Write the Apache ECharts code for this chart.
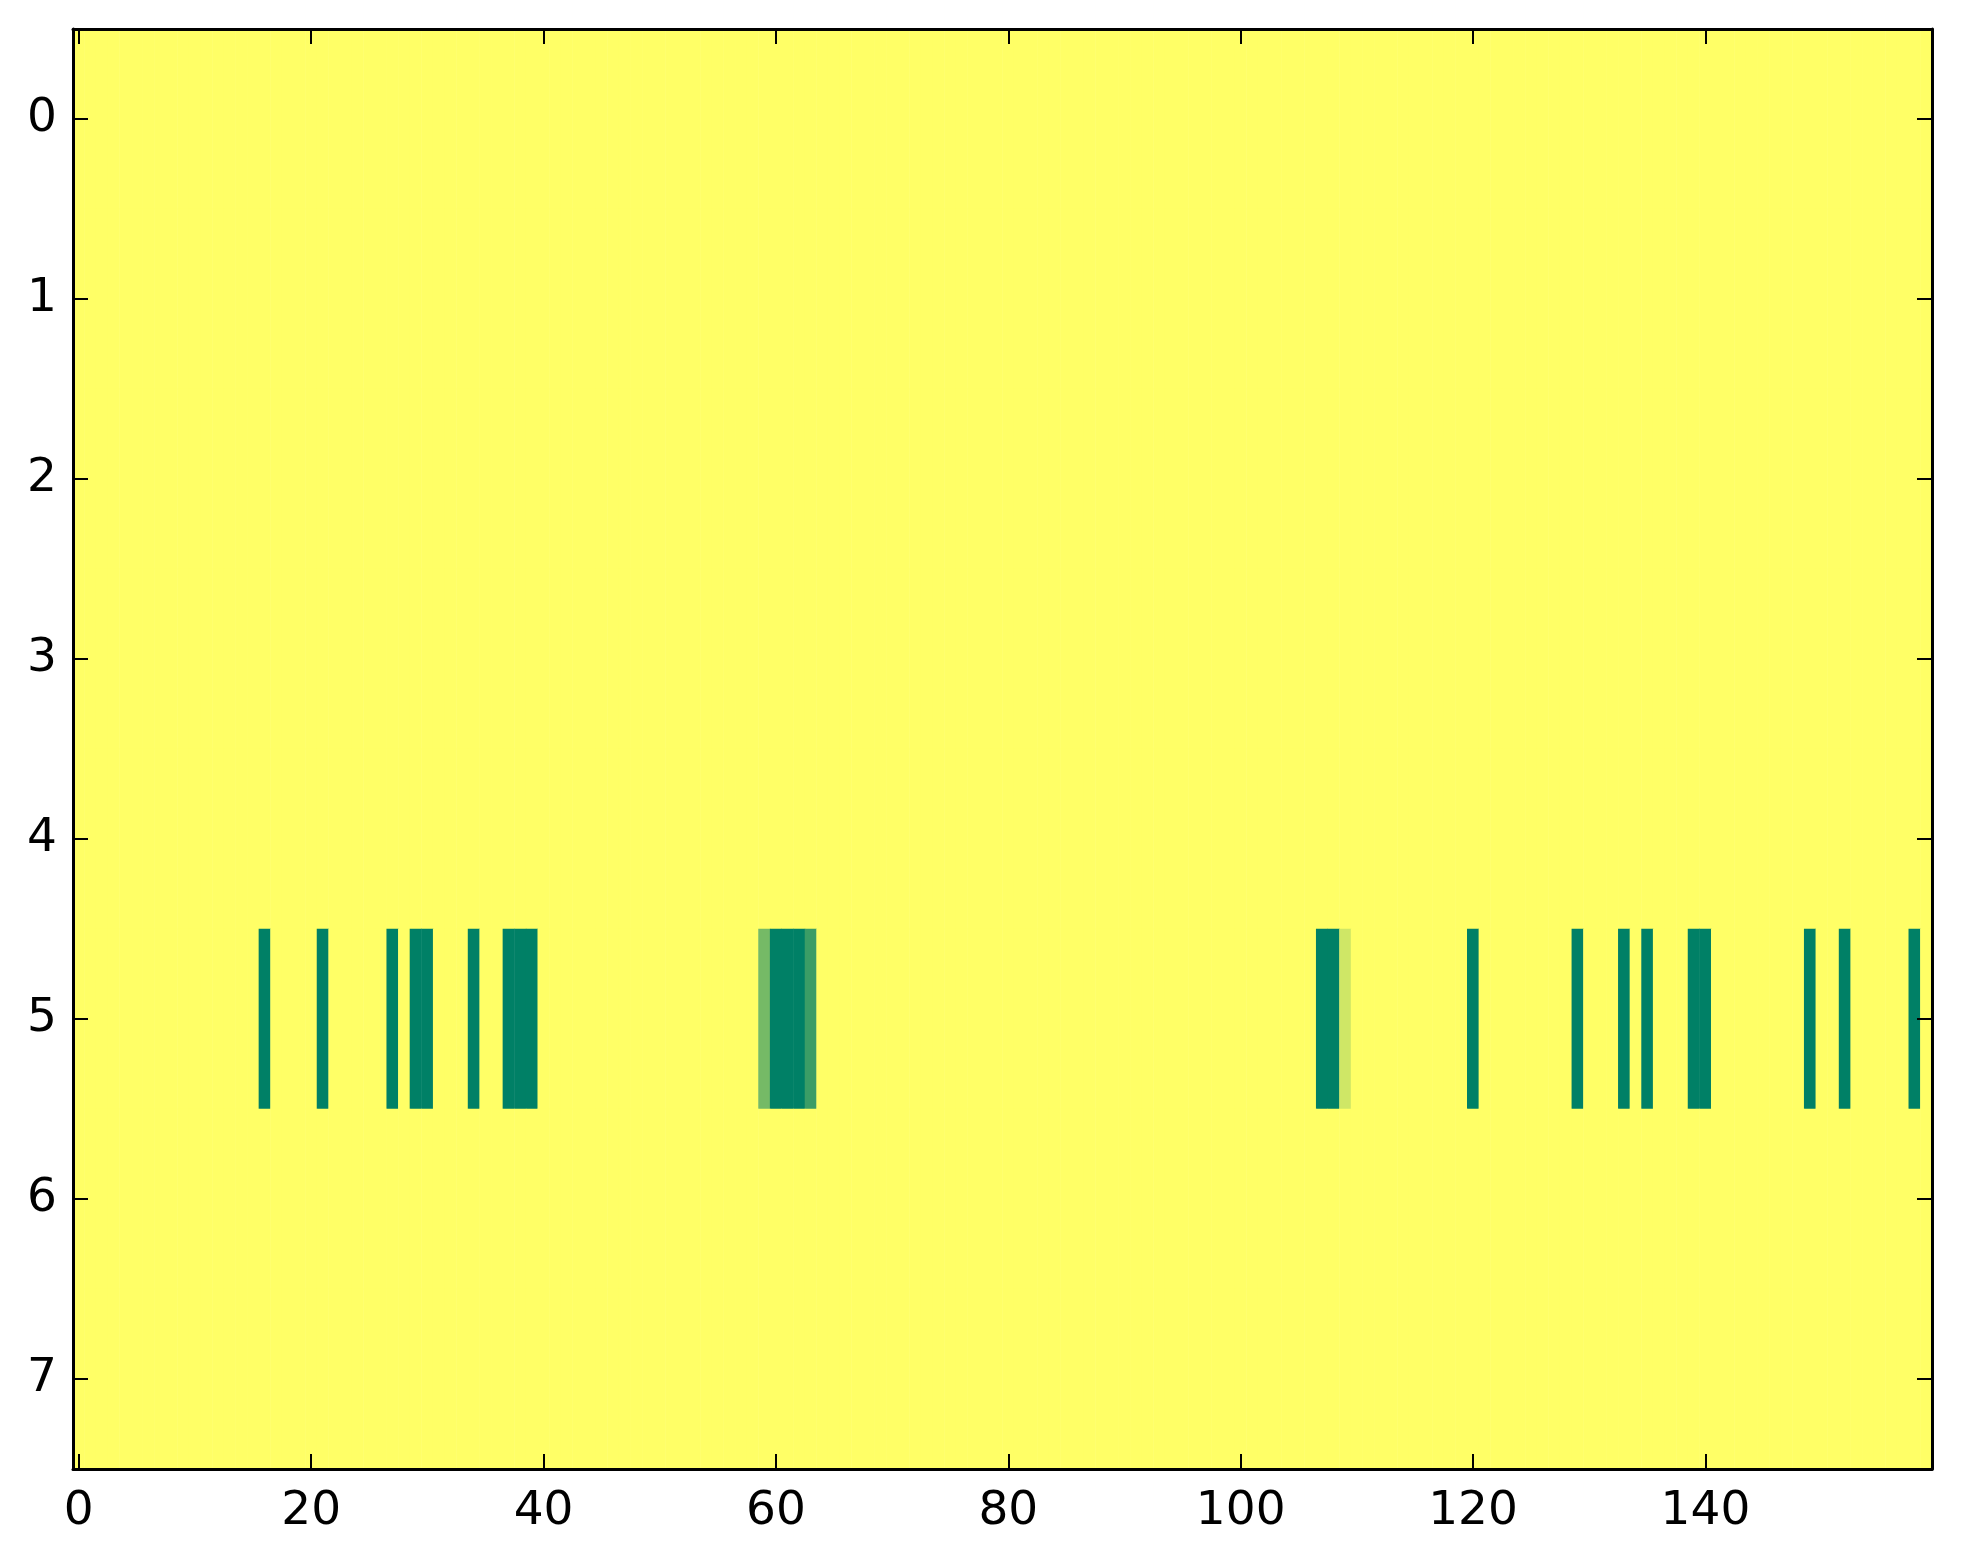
<!DOCTYPE html>
<html>
<head>
<meta charset="utf-8">
<script src="https://cdn.jsdelivr.net/npm/echarts@6/dist/echarts.min.js"></script>
<style>
html,body{margin:0;padding:0;background:#fff;}
#chart{width:1963px;height:1564px;}
</style>
</head>
<body>
<div id="chart"></div>
<script>
// Column categories (0..159) and row categories (0..7)
const xCategories = Array.from({length: 160}, (_, i) => String(i));
const yCategories = ['0', '1', '2', '3', '4', '5', '6', '7'];
const xTickLabels = ['0', '20', '40', '60', '80', '100', '120', '140'];

// Cell values per row (0 = dark green, 1 = yellow)
const row0 = [1,1,1,1,1,1,1,1,1,1,1,1,1,1,1,1,1,1,1,1,1,1,1,1,1,1,1,1,1,1,1,1,1,1,1,1,1,1,1,1,1,1,1,1,1,1,1,1,1,1,1,1,1,1,1,1,1,1,1,1,1,1,1,1,1,1,1,1,1,1,1,1,1,1,1,1,1,1,1,1,1,1,1,1,1,1,1,1,1,1,1,1,1,1,1,1,1,1,1,1,1,1,1,1,1,1,1,1,1,1,1,1,1,1,1,1,1,1,1,1,1,1,1,1,1,1,1,1,1,1,1,1,1,1,1,1,1,1,1,1,1,1,1,1,1,1,1,1,1,1,1,1,1,1,1,1,1,1,1,1];
const row1 = [1,1,1,1,1,1,1,1,1,1,1,1,1,1,1,1,1,1,1,1,1,1,1,1,1,1,1,1,1,1,1,1,1,1,1,1,1,1,1,1,1,1,1,1,1,1,1,1,1,1,1,1,1,1,1,1,1,1,1,1,1,1,1,1,1,1,1,1,1,1,1,1,1,1,1,1,1,1,1,1,1,1,1,1,1,1,1,1,1,1,1,1,1,1,1,1,1,1,1,1,1,1,1,1,1,1,1,1,1,1,1,1,1,1,1,1,1,1,1,1,1,1,1,1,1,1,1,1,1,1,1,1,1,1,1,1,1,1,1,1,1,1,1,1,1,1,1,1,1,1,1,1,1,1,1,1,1,1,1,1];
const row2 = [1,1,1,1,1,1,1,1,1,1,1,1,1,1,1,1,1,1,1,1,1,1,1,1,1,1,1,1,1,1,1,1,1,1,1,1,1,1,1,1,1,1,1,1,1,1,1,1,1,1,1,1,1,1,1,1,1,1,1,1,1,1,1,1,1,1,1,1,1,1,1,1,1,1,1,1,1,1,1,1,1,1,1,1,1,1,1,1,1,1,1,1,1,1,1,1,1,1,1,1,1,1,1,1,1,1,1,1,1,1,1,1,1,1,1,1,1,1,1,1,1,1,1,1,1,1,1,1,1,1,1,1,1,1,1,1,1,1,1,1,1,1,1,1,1,1,1,1,1,1,1,1,1,1,1,1,1,1,1,1];
const row3 = [1,1,1,1,1,1,1,1,1,1,1,1,1,1,1,1,1,1,1,1,1,1,1,1,1,1,1,1,1,1,1,1,1,1,1,1,1,1,1,1,1,1,1,1,1,1,1,1,1,1,1,1,1,1,1,1,1,1,1,1,1,1,1,1,1,1,1,1,1,1,1,1,1,1,1,1,1,1,1,1,1,1,1,1,1,1,1,1,1,1,1,1,1,1,1,1,1,1,1,1,1,1,1,1,1,1,1,1,1,1,1,1,1,1,1,1,1,1,1,1,1,1,1,1,1,1,1,1,1,1,1,1,1,1,1,1,1,1,1,1,1,1,1,1,1,1,1,1,1,1,1,1,1,1,1,1,1,1,1,1];
const row4 = [1,1,1,1,1,1,1,1,1,1,1,1,1,1,1,1,1,1,1,1,1,1,1,1,1,1,1,1,1,1,1,1,1,1,1,1,1,1,1,1,1,1,1,1,1,1,1,1,1,1,1,1,1,1,1,1,1,1,1,1,1,1,1,1,1,1,1,1,1,1,1,1,1,1,1,1,1,1,1,1,1,1,1,1,1,1,1,1,1,1,1,1,1,1,1,1,1,1,1,1,1,1,1,1,1,1,1,1,1,1,1,1,1,1,1,1,1,1,1,1,1,1,1,1,1,1,1,1,1,1,1,1,1,1,1,1,1,1,1,1,1,1,1,1,1,1,1,1,1,1,1,1,1,1,1,1,1,1,1,1];
const row5 = [
  1,1,1,1,1,1,1,1,1,1,1,1,1,1,1,1,   // 0-15
  0,1,1,1,1,0,1,1,1,1,1,0,1,0,0,1,   // 16-31
  1,1,0,1,1,0,0,0,1,1,1,1,1,1,1,1,   // 32-47
  1,1,1,1,1,1,1,1,1,1,1,0.46,0,0,0,0.23, // 48-63
  1,1,1,1,1,1,1,1,1,1,1,1,1,1,1,1,   // 64-79
  1,1,1,1,1,1,1,1,1,1,1,1,1,1,1,1,   // 80-95
  1,1,1,1,1,1,1,1,1,1,1,0,0,0.81,1,1, // 96-111
  1,1,1,1,1,1,1,1,0,1,1,1,1,1,1,1,   // 112-127
  1,0,1,1,1,0,1,0,1,1,1,0,0,1,1,1,   // 128-143
  1,1,1,1,1,0,1,1,0,1,1,1,1,1,0,1    // 144-159
];
const row6 = [1,1,1,1,1,1,1,1,1,1,1,1,1,1,1,1,1,1,1,1,1,1,1,1,1,1,1,1,1,1,1,1,1,1,1,1,1,1,1,1,1,1,1,1,1,1,1,1,1,1,1,1,1,1,1,1,1,1,1,1,1,1,1,1,1,1,1,1,1,1,1,1,1,1,1,1,1,1,1,1,1,1,1,1,1,1,1,1,1,1,1,1,1,1,1,1,1,1,1,1,1,1,1,1,1,1,1,1,1,1,1,1,1,1,1,1,1,1,1,1,1,1,1,1,1,1,1,1,1,1,1,1,1,1,1,1,1,1,1,1,1,1,1,1,1,1,1,1,1,1,1,1,1,1,1,1,1,1,1,1];
const row7 = [1,1,1,1,1,1,1,1,1,1,1,1,1,1,1,1,1,1,1,1,1,1,1,1,1,1,1,1,1,1,1,1,1,1,1,1,1,1,1,1,1,1,1,1,1,1,1,1,1,1,1,1,1,1,1,1,1,1,1,1,1,1,1,1,1,1,1,1,1,1,1,1,1,1,1,1,1,1,1,1,1,1,1,1,1,1,1,1,1,1,1,1,1,1,1,1,1,1,1,1,1,1,1,1,1,1,1,1,1,1,1,1,1,1,1,1,1,1,1,1,1,1,1,1,1,1,1,1,1,1,1,1,1,1,1,1,1,1,1,1,1,1,1,1,1,1,1,1,1,1,1,1,1,1,1,1,1,1,1,1];

const rows = [row0, row1, row2, row3, row4, row5, row6, row7];
const heatData = [];
rows.forEach((row, y) => row.forEach((v, x) => heatData.push([x, y, v])));

const isXTick = (idx) => xTickLabels.indexOf(String(idx)) >= 0;

const font = {fontFamily: 'DejaVu Sans', fontSize: 47, color: '#000'};
const lineStyle = {color: '#000', width: 3};
const tickStyle = {color: '#000', width: 2};

const chart = echarts.init(document.getElementById('chart'), null, {renderer: 'canvas'});
chart.setOption({
  backgroundColor: '#fff',
  animation: false,
  grid: {left: 73, right: 31, top: 29, bottom: 95, containLabel: false},
  xAxis: [
    {
      type: 'category', data: xCategories, position: 'bottom', boundaryGap: true, z: 10,
      axisLine: {show: true, lineStyle: lineStyle, onZero: false},
      axisTick: {show: true, inside: true, length: 15, alignWithLabel: true, interval: (i) => isXTick(i), lineStyle: tickStyle},
      axisLabel: {show: true, interval: (i) => isXTick(i), margin: 19, ...font},
      splitLine: {show: false}
    },
    {
      type: 'category', data: xCategories, position: 'top', boundaryGap: true, z: 10,
      axisLine: {show: true, lineStyle: lineStyle, onZero: false},
      axisTick: {show: true, inside: true, length: 15, alignWithLabel: true, interval: (i) => isXTick(i), lineStyle: tickStyle},
      axisLabel: {show: false},
      splitLine: {show: false}
    }
  ],
  yAxis: [
    {
      type: 'category', data: yCategories, inverse: true, position: 'left', boundaryGap: true, z: 10,
      axisLine: {show: true, lineStyle: lineStyle, onZero: false},
      axisTick: {show: true, inside: true, length: 15, alignWithLabel: true, interval: 0, lineStyle: tickStyle},
      axisLabel: {show: true, interval: 0, margin: 16, ...font},
      splitLine: {show: false}
    },
    {
      type: 'category', data: yCategories, inverse: true, position: 'right', boundaryGap: true, z: 10,
      axisLine: {show: true, lineStyle: lineStyle, onZero: false},
      axisTick: {show: true, inside: true, length: 15, alignWithLabel: true, interval: 0, lineStyle: tickStyle},
      axisLabel: {show: false},
      splitLine: {show: false}
    }
  ],
  visualMap: {
    show: false, type: 'continuous', min: 0, max: 1, dimension: 2,
    inRange: {color: ['#008066', '#ffff66']}
  },
  series: [{
    type: 'heatmap', xAxisIndex: 0, yAxisIndex: 0, data: heatData, z: 2,
    itemStyle: {borderWidth: 0},
    emphasis: {disabled: true},
    progressive: 0
  }]
});
</script>
</body>
</html>
